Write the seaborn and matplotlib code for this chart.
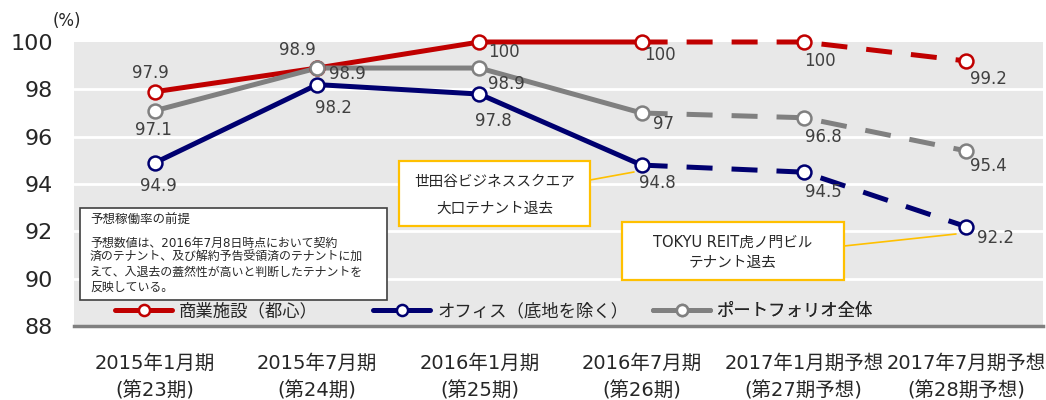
import pandas as pd
import matplotlib.pyplot as plt
import matplotlib.patches as mpatches
from matplotlib.lines import Line2D
import seaborn as sns

# データ
periods = ['2015年1月期', '2015年7月期', '2016年1月期', '2016年7月期', '2017年1月期予想', '2017年7月期予想']
terms = ['(第23期)', '(第24期)', '(第25期)', '(第26期)', '(第27期予想)', '(第28期予想)']
retail = [97.9, 98.9, 100, 100, 100, 99.2]
office = [94.9, 98.2, 97.8, 94.8, 94.5, 92.2]
portfolio = [97.1, 98.9, 98.9, 97.0, 96.8, 95.4]
series_names = ['商業施設（都心）', 'オフィス（底地を除く）', 'ポートフォリオ全体']
n_actual = 4  # 実績の期数（以降は予想）

note_title = '予想稼働率の前提'
note_lines = ['予想数値は、2016年7月8日時点において契約',
              '済のテナント、及び解約予告受領済のテナントに加',
              'えて、入退去の蓋然性が高いと判断したテナントを',
              '反映している。']
callout1 = ['世田谷ビジネススクエア', '大口テナント退去']
callout2 = ['TOKYU REIT虎ノ門ビル', 'テナント退去']

sns.set_style('white')
plt.rcParams['font.family'] = ['DejaVu Sans', 'Noto Sans CJK JP']

W, H = 1046, 400
colors = ['#C00000', '#000070', '#808080']
# ラベル位置（ピクセル、右・下方向）
label_offsets = [
    [(-5, -19), (-20, -18), (24, 10), (18, 13), (16, 19), (22, 18)],
    [(3, 23), (16, 23), (14, 27), (16, 18), (20, 20), (30, 11)],
    [(-2, 19), (30, 6), (27, 16), (22, 11), (20, 19), (22, 15)],
]
legend_x = [115, 373, 653]


def fx(x):
    return x / W


def fy(y):
    return 1 - y / H


fig = plt.figure(figsize=(W / 100, H / 100), dpi=100)
ax = fig.add_axes([fx(74), fy(326), fx(969), 284 / H])
ax.set_facecolor('#E8E8E8')

idx = list(range(len(periods)))
all_series = [retail, office, portfolio]

for vals, col in zip(all_series, colors):
    df = pd.DataFrame({'x': idx, 'y': vals})
    sns.lineplot(data=df.iloc[:n_actual], x='x', y='y', color=col, linewidth=3.6,
                 ax=ax, zorder=3, clip_on=False)
    sns.lineplot(data=df.iloc[n_actual - 1:], x='x', y='y', color=col, linewidth=3.6,
                 linestyle=(0, (5.2, 3.8)), ax=ax, zorder=3, clip_on=False)

for vals, col, offs in zip(all_series, colors, label_offsets):
    ax.plot(idx, vals, linestyle='none', marker='o', markersize=10,
            markerfacecolor='white', markeredgecolor=col, markeredgewidth=1.8,
            zorder=4, clip_on=False)
    for i, v in enumerate(vals):
        ax.annotate(f'{v:g}', (i, v), xytext=(offs[i][0], -offs[i][1]),
                    textcoords='offset pixels', ha='center', va='center',
                    fontsize=12, color='#404040', zorder=5)

ax.set_xlim(-0.5, 5.475)
ax.set_ylim(88, 100)
ax.set_yticks(range(88, 101, 2))
ax.set_xticks(idx)
ax.set_xticklabels([f'{p}\n{t}' for p, t in zip(periods, terms)],
                   fontsize=14, color='#262626', linespacing=1.55)
ax.tick_params(axis='x', length=0, pad=20)
ax.tick_params(axis='y', length=0, pad=15, labelsize=16, labelcolor='#262626')
ax.set_xlabel('')
ax.set_ylabel('')
for g in [90, 92, 94, 96, 98]:
    ax.axhline(g, color='white', linewidth=2, zorder=1)
for s in ['top', 'right', 'left']:
    ax.spines[s].set_visible(False)
ax.spines['bottom'].set_color('#808080')
ax.spines['bottom'].set_linewidth(2.5)

# 凡例（項目ごとに配置）
for name, c, lx in zip(series_names, colors, legend_x):
    h = Line2D([], [], color=c, linewidth=3.6, marker='o', markersize=8,
               markerfacecolor='white', markeredgecolor=c, markeredgewidth=1.8)
    leg = ax.legend([h], [name], loc='center left',
                    bbox_to_anchor=((lx - 74) / 969, (326 - 311) / 284),
                    frameon=False, fontsize=12.5, handlelength=3.3, handletextpad=0.4,
                    borderpad=0, borderaxespad=0, labelcolor='#262626')
    ax.add_artist(leg)

fig.text(fx(67), fy(21), '(%)', fontsize=12, color='#262626', ha='center', va='center')

# 前提注記
fig.patches.append(mpatches.Rectangle((fx(80), fy(300)), fx(307), 92 / H,
                                      transform=fig.transFigure, facecolor='white',
                                      edgecolor='#404040', linewidth=1.2, zorder=6))
fig.text(fx(90), fy(220), note_title, fontsize=9, color='#262626', va='center', zorder=7)
for k, line in enumerate(note_lines):
    fig.text(fx(90), fy(243 + 14.7 * k), line, fontsize=8.6, color='#262626',
             va='center', zorder=7)

# 吹き出し
boxes = [((399, 161, 590, 226), callout1, [181, 208], ((590, 180), (634, 172))),
         ((622, 222, 844, 280), callout2, [242, 262], ((844, 246), (956, 234)))]
for (x0, y0, x1, y1), texts, ys, (p, q) in boxes:
    fig.add_artist(Line2D([fx(p[0]), fx(q[0])], [fy(p[1]), fy(q[1])],
                          color='#FFC000', linewidth=1.2, zorder=6))
    fig.patches.append(mpatches.Rectangle((fx(x0), fy(y1)), fx(x1 - x0), (y1 - y0) / H,
                                          transform=fig.transFigure, facecolor='white',
                                          edgecolor='#FFC000', linewidth=1.6, zorder=6))
    for t, yy in zip(texts, ys):
        fig.text(fx((x0 + x1) / 2), fy(yy), t, fontsize=10.5, color='#262626',
                 ha='center', va='center', zorder=7)

fig.savefig('out.png', dpi=100)
